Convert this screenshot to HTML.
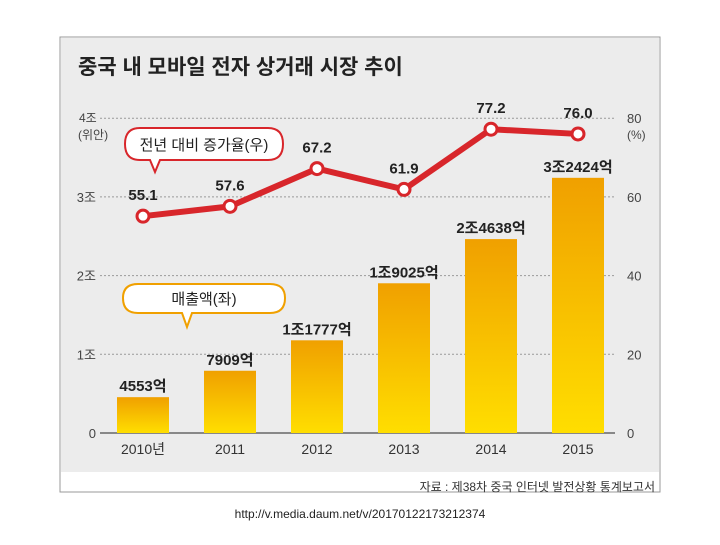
<!DOCTYPE html>
<html><head><meta charset="utf-8"><style>
body{margin:0;background:#fff;width:720px;height:540px;overflow:hidden;font-family:"Liberation Sans","Noto Sans CJK KR",sans-serif;}
</style></head><body>
<svg width="720" height="540" xmlns="http://www.w3.org/2000/svg">
<defs>
<linearGradient id="bg" x1="0" y1="0" x2="0" y2="1"><stop offset="0" stop-color="#f0a000"/><stop offset="1" stop-color="#ffde00"/></linearGradient>
</defs>
<rect x="60" y="37" width="600" height="455" fill="#fff" stroke="#999"/>
<rect x="61" y="38" width="598" height="434" fill="#ececec"/>
<text x="78" y="74" font-size="21" font-weight="bold" fill="#222">중국 내 모바일 전자 상거래 시장 추이</text>
<g id="grid"></g><g id="bars"></g><g id="line"></g>
<g>
<path d="M140,128 H268 Q283,128 283,144 Q283,160 268,160 H160 L155,172 L150,160 H140 Q125,160 125,144 Q125,128 140,128Z" fill="#fff" stroke="#d8262b" stroke-width="2"/>
<text x="204" y="150" font-size="15" text-anchor="middle" fill="#222">전년 대비 증가율(우)</text></g>
<g>
<path d="M138,284 H270 Q285,284 285,298 Q285,313 270,313 H192 L187,327 L182,313 H138 Q123,313 123,298 Q123,284 138,284Z" fill="#fff" stroke="#f0a000" stroke-width="2"/>
<text x="204" y="304" font-size="15" text-anchor="middle" fill="#222">매출액(좌)</text></g>
<text x="79" y="122" font-size="12" fill="#444">4조</text>
<text x="78" y="139" font-size="12" fill="#444">(위안)</text>
<text x="627" y="139" font-size="12" fill="#444">(%)</text>
<text x="655" y="491" font-size="12" fill="#333" text-anchor="end">자료 : 제38차 중국 인터넷 발전상황 통계보고서</text>
<text x="360" y="518" font-size="12" fill="#222" text-anchor="middle">http://v.media.daum.net/v/20170122173212374</text>
</svg>
<script>
const categories=["2010년","2011","2012","2013","2014","2015"];
const salesValues=[0.4553,0.7909,1.1777,1.9025,2.4638,3.2424];
const salesLabels=["4553억","7909억","1조1777억","1조9025억","2조4638억","3조2424억"];
const growthValues=[55.1,57.6,67.2,61.9,77.2,76.0];
const leftTicks=["0","1조","2조","3조",""];
const rightTicks=["0","20","40","60","80"];
const NS="http://www.w3.org/2000/svg";
const y0=433,pxPer=78.7;
const yL=v=>y0-v*pxPer;
const yR=p=>y0-p/20*pxPer;
const xC=i=>143+i*87;
function mk(tag,attrs,parent,txt){const e=document.createElementNS(NS,tag);for(const k in attrs)e.setAttribute(k,attrs[k]);if(txt!==undefined)e.textContent=txt;parent.appendChild(e);return e;}
const grid=document.getElementById('grid'),bars=document.getElementById('bars'),line=document.getElementById('line');
for(let t=0;t<5;t++){const y=yL(t);
 if(t>0){const g=mk('line',{x1:100,x2:615,y1:y,y2:y,stroke:'#999','stroke-dasharray':'2,2'},grid);
 
 }
 if(leftTicks[t]){const a=mk('text',{x:96,y:y+5,'font-size':13,'text-anchor':'end',fill:'#444'},grid,leftTicks[t]);
 
 }
 const b=mk('text',{x:627,y:y+5,'font-size':13,fill:'#444'},grid,rightTicks[t]);
 
 }
const ax=mk('line',{x1:100,x2:615,y1:y0,y2:y0,stroke:'#666','stroke-width':1.5},grid);


categories.forEach((c,i)=>{const x=xC(i),top=yL(salesValues[i]);
 const r=mk('rect',{x:x-26,y:top,width:52,height:y0-top,fill:'url(#bg)'},bars);
 
 
 const l=mk('text',{x:x,y:top-6,'font-size':15,'font-weight':'bold','text-anchor':'middle',fill:'#222'},bars,salesLabels[i]);
 
 
 const cl=mk('text',{x:x,y:454,'font-size':14,'text-anchor':'middle',fill:'#333'},bars,c);
 
 });
const pts=growthValues.map((v,i)=>xC(i)+','+yR(v)).join(' ');
const pl=mk('polyline',{points:pts,fill:'none',stroke:'#d8262b','stroke-width':6,'stroke-linejoin':'round'},line);


growthValues.forEach((v,i)=>{const x=xC(i),y=yR(v);
 const c=mk('circle',{cx:x,cy:y,r:6,fill:'#fff',stroke:'#d8262b','stroke-width':3},line);
 
 
 const t=mk('text',{x:x,y:y-16,'font-size':15,'font-weight':'bold','text-anchor':'middle',fill:'#222'},line,v.toFixed(1));
 
 });
</script>
</body></html>
